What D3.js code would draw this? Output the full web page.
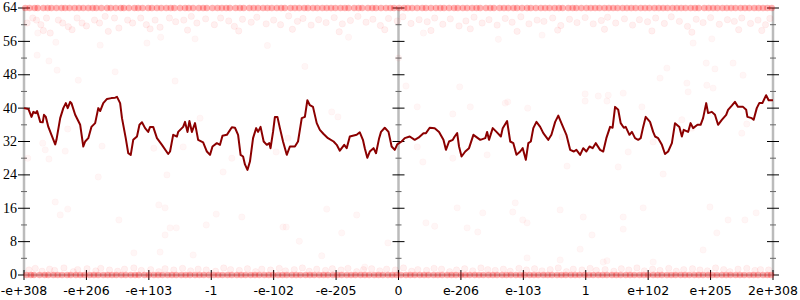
<!DOCTYPE html>
<html>
<head>
<meta charset="utf-8">
<script src="https://cdn.jsdelivr.net/npm/d3@7"></script>
<style>
body { margin: 0; background: #fff; }
svg { display: block; }
</style>
</head>
<body>
<script>
const w = 800;
const h = 300;
const margin = {top: 8, right: 27, bottom: 25, left: 24};

// x is in "tick steps" along the bit-ordered axis, 0..12
const xLabels = ["-e+308", "-e+206", "-e+103", "-1", "-e-102", "-e-205", "0",
                 "e-206", "e-103", "1", "e+102", "e+205", "2e+308"];
const yMajor = [0, 8, 16, 24, 32, 40, 48, 56, 64];
const yMinor = [4, 12, 20, 28, 36, 44, 52, 60];

// moving count line
const lineX = [0.00,0.07,0.12,0.15,0.19,0.21,0.26,0.30,0.32,0.35,0.39,0.44,0.50,0.52,0.58,0.63,0.67,0.70,0.74,0.76,
  0.82,0.90,0.95,0.98,1.03,1.08,1.14,1.19,1.22,1.27,1.33,1.40,1.46,1.49,1.54,1.57,1.63,1.67,1.71,1.75,
  1.81,1.85,1.89,1.94,1.99,2.02,2.07,2.13,2.21,2.31,2.34,2.39,2.45,2.47,2.55,2.58,2.62,2.65,2.69,2.74,
  2.79,2.87,2.93,2.98,3.02,3.09,3.14,3.18,3.25,3.33,3.38,3.43,3.47,3.51,3.54,3.58,3.62,3.67,3.72,3.75,
  3.79,3.84,3.89,3.93,3.95,3.99,4.02,4.06,4.10,4.15,4.21,4.26,4.34,4.39,4.45,4.50,4.54,4.58,4.63,4.69,
  4.74,4.80,4.87,4.96,5.01,5.06,5.13,5.17,5.22,5.33,5.38,5.43,5.46,5.50,5.54,5.60,5.64,5.69,5.72,5.78,
  5.84,5.89,5.94,5.98,6.05,6.10,6.18,6.26,6.32,6.40,6.44,6.50,6.58,6.65,6.72,6.76,6.81,6.87,6.90,6.94,
  6.97,7.01,7.07,7.13,7.20,7.31,7.39,7.42,7.45,7.51,7.57,7.64,7.67,7.74,7.79,7.84,7.89,7.95,7.99,8.04,
  8.08,8.12,8.16,8.21,8.27,8.32,8.40,8.45,8.51,8.56,8.61,8.69,8.75,8.81,8.85,8.91,8.96,9.01,9.06,9.11,
  9.16,9.23,9.28,9.33,9.39,9.43,9.47,9.52,9.56,9.61,9.64,9.70,9.74,9.79,9.84,9.88,9.92,9.96,10.03,10.08,
  10.11,10.16,10.22,10.27,10.32,10.38,10.43,10.50,10.54,10.57,10.64,10.68,10.72,10.79,10.84,10.88,10.93,10.96,11.02,11.07,
  11.12,11.18,11.25,11.28,11.34,11.39,11.44,11.52,11.57,11.59,11.66,11.69,11.74,11.78,11.83,11.89,11.93,12.00];
const lineY = [40.0,39.8,37.9,39.1,38.8,39.3,36.7,36.6,38.4,37.9,35.5,33.6,31.3,32.4,37.6,40.0,41.2,40.0,41.5,41.2,
  38.4,36.0,30.8,32.0,32.8,35.5,36.4,40.0,39.3,41.2,42.2,42.4,42.5,42.7,41.2,37.6,32.8,29.2,28.8,32.4,
  33.2,36.0,36.6,35.2,34.3,35.5,35.5,32.8,31.2,29.0,29.6,33.6,33.2,34.3,35.5,36.7,34.3,36.9,34.3,36.4,
  32.4,31.8,29.6,28.8,30.8,31.6,31.2,33.4,33.6,35.4,35.3,33.6,28.8,28.4,26.5,25.2,27.2,32.8,35.2,34.3,
  35.5,32.0,31.2,31.6,30.4,34.3,37.9,37.9,35.2,32.0,28.8,30.8,30.8,32.0,37.6,37.9,41.9,40.7,40.3,36.4,
  34.8,33.8,32.8,32.0,31.2,29.8,31.2,30.4,33.2,33.6,34.2,32.4,30.4,28.1,29.6,30.4,29.2,32.8,34.3,35.3,
  34.3,30.8,30.0,31.3,32.0,32.8,33.2,32.4,32.9,34.0,34.0,35.3,35.2,34.3,32.4,30.0,32.0,32.4,33.2,34.0,
  30.8,28.4,29.6,30.4,33.6,32.4,32.8,34.3,32.4,35.2,34.3,33.2,35.2,36.9,32.0,31.6,28.8,29.6,30.4,27.6,
  31.6,32.0,35.2,36.7,35.5,34.0,32.4,33.6,36.7,38.2,36.4,33.6,30.0,29.6,30.0,28.8,30.4,29.6,30.8,30.4,
  31.6,30.0,29.6,32.8,35.5,35.3,40.3,39.6,36.4,35.3,35.5,33.6,34.3,32.8,32.4,32.8,35.5,37.9,36.7,34.3,
  33.2,32.8,31.2,29.0,29.6,31.6,36.4,35.5,33.2,34.8,34.3,36.4,35.2,36.0,36.0,37.6,41.2,38.8,39.1,38.4,
  36.0,37.2,38.4,39.6,40.6,41.5,40.3,40.3,39.6,37.9,37.6,37.2,40.0,41.2,41.2,43.1,41.9,41.9];

// samples sitting exactly on 64 and on 0
const topBandX = [0.02,0.09,0.17,0.22,0.31,0.38,0.44,0.52,0.60,0.66,0.73,0.81,0.88,0.95,1.03,1.10,1.16,1.24,1.33,1.39,
  1.47,1.55,1.60,1.68,1.77,1.83,1.90,1.99,2.05,2.13,2.20,2.28,2.35,2.41,2.50,2.58,2.64,2.71,2.80,2.87,
  2.93,3.02,3.10,3.17,3.24,3.30,3.39,3.46,3.52,3.61,3.68,3.75,3.83,3.90,3.97,4.05,4.12,4.18,4.27,4.34,
  4.41,4.49,4.55,4.63,4.70,4.78,4.85,4.92,4.99,5.07,5.14,5.20,5.29,5.36,5.42,5.51,5.58,5.64,5.72,5.80,
  5.87,5.93,6.01,6.09,6.15,6.22,6.30,6.38,6.44,6.52,6.60,6.67,6.73,6.81,6.89,6.95,7.03,7.10,7.18,7.25,
  7.31,7.40,7.47,7.53,7.62,7.69,7.76,7.84,7.90,7.98,8.06,8.12,8.20,8.28,8.35,8.42,8.50,8.57,8.63,8.72,
  8.79,8.85,8.93,9.01,9.08,9.15,9.22,9.30,9.37,9.44,9.51,9.59,9.66,9.73,9.80,9.88,9.95,10.02,10.10,10.17,
  10.24,10.31,10.39,10.46,10.53,10.60,10.68,10.75,10.81,10.90,10.97,11.04,11.11,11.19,11.26,11.33,11.40,11.48,11.55,11.62,
  11.70,11.77,11.84,11.91,11.98];
const bottomBandX = [0.04,0.11,0.16,0.25,0.33,0.39,0.47,0.54,0.61,0.69,0.75,0.83,0.90,0.97,1.05,1.12,1.19,1.27,1.34,1.41,
  1.48,1.56,1.63,1.71,1.78,1.84,1.93,2.00,2.08,2.15,2.22,2.30,2.37,2.44,2.52,2.59,2.66,2.74,2.81,2.88,
  2.96,3.04,3.11,3.18,3.26,3.33,3.41,3.48,3.55,3.63,3.70,3.77,3.85,3.92,3.99,4.07,4.14,4.21,4.29,4.36,
  4.43,4.51,4.58,4.65,4.73,4.80,4.87,4.95,5.02,5.09,5.17,5.24,5.31,5.39,5.46,5.53,5.61,5.68,5.75,5.83,
  5.90,5.97,6.04,6.12,6.19,6.26,6.34,6.41,6.48,6.56,6.63,6.70,6.78,6.85,6.92,7.00,7.07,7.14,7.22,7.29,
  7.36,7.44,7.51,7.58,7.66,7.73,7.80,7.88,7.95,8.02,8.10,8.17,8.24,8.32,8.39,8.46,8.54,8.61,8.68,8.76,
  8.83,8.90,8.98,9.05,9.12,9.20,9.27,9.34,9.42,9.49,9.56,9.64,9.71,9.78,9.86,9.93,10.00,10.08,10.15,10.22,
  10.30,10.37,10.44,10.52,10.59,10.66,10.74,10.81,10.88,10.96,11.03,11.10,11.18,11.25,11.32,11.40,11.47,11.54,11.62,11.69,
  11.76,11.84,11.91,11.97];

// samples just under 64
const upperX = [0.05,0.14,0.20,0.27,0.36,0.42,0.55,0.62,0.71,0.85,0.93,1.00,1.13,1.21,1.30,1.45,1.52,1.66,1.74,1.87,
  1.96,2.10,2.18,2.33,2.43,2.56,2.68,2.77,2.91,3.05,3.15,3.28,3.37,3.50,3.64,3.73,3.88,4.00,4.11,4.24,
  4.38,4.47,4.60,4.72,4.84,4.97,5.10,5.23,5.35,5.48,5.59,5.71,5.84,5.98,6.07,6.20,6.33,6.46,6.58,6.71,
  6.83,6.97,7.08,7.21,7.34,7.45,7.58,7.71,7.82,7.96,8.09,8.22,8.33,8.47,8.60,8.74,8.86,8.99,9.12,9.25,
  9.35,9.48,9.62,9.75,9.86,9.99,10.12,10.26,10.37,10.50,10.63,10.77,10.88,11.00,11.14,11.27,11.38,11.50,11.64,11.76,
  11.88,11.95,0.31,0.77,1.35,2.02,2.62,3.44,4.30,5.05,5.78,6.52,7.15,7.90,8.55,9.30,10.06,10.70,11.45,11.82];
const upperY = [60.4,61.6,61.1,60.0,61.6,58.0,61.1,60.4,59.5,61.6,60.4,59.7,61.1,60.4,62.0,61.6,59.2,61.1,60.4,61.6,
  60.0,61.1,59.4,61.6,60.7,61.1,62.0,60.4,61.4,60.0,61.6,60.9,59.6,61.3,60.6,61.8,60.2,61.1,60.0,62.1,
  60.8,61.5,59.9,61.2,60.5,61.7,60.2,61.0,62.0,60.6,61.3,59.8,61.5,60.9,61.9,60.3,61.2,60.7,61.6,60.1,
  61.4,59.7,60.9,61.8,60.4,61.2,59.9,61.5,60.6,61.9,60.2,61.1,60.8,61.6,59.8,61.3,60.5,61.7,60.2,61.0,
  61.8,60.4,61.4,59.9,61.2,60.7,61.6,60.3,61.9,60.8,59.6,61.3,60.5,61.7,60.1,61.2,60.8,61.6,60.3,61.1,
  60.0,61.5,58.6,58.8,58.4,59.0,58.7,58.5,58.9,58.3,58.8,58.6,59.0,58.4,58.7,58.9,58.5,58.2,58.8,58.6];

// samples just above 0
const lowerX = [0.08,0.18,0.29,0.41,0.49,0.64,0.79,0.86,1.01,1.15,1.23,1.37,1.50,1.61,1.76,1.88,2.03,2.16,2.26,2.40,
  2.54,2.67,2.79,2.92,3.07,3.20,3.31,3.45,3.58,3.71,3.81,3.95,4.09,4.19,4.33,4.46,4.57,4.69,4.83,4.94,
  5.08,5.19,5.33,5.44,5.57,5.70,5.81,5.95,6.08,6.21,6.31,6.45,6.57,6.69,6.82,6.93,7.06,7.19,7.32,7.43,
  7.55,7.68,7.79,7.93,8.05,8.18,8.30,8.43,8.56,8.69,8.80,8.94,9.07,9.17,9.31,9.45,9.57,9.69,9.82,9.94,
  10.07,10.19,10.33,10.45,10.57,10.71,10.83,10.95,11.08,11.21,11.31,11.44,11.58,11.71,11.80,11.93];
const lowerY = [1.2,1.6,0.9,1.4,1.1,1.7,0.8,1.3,1.5,1.0,1.6,1.2,0.9,1.4,1.7,1.1,1.3,0.8,1.5,1.2,
  1.6,1.0,1.4,1.2,0.9,1.7,1.3,1.1,1.5,0.8,1.4,1.2,1.6,1.0,1.3,1.7,0.9,1.4,1.1,1.5,
  1.2,1.6,0.8,1.3,1.5,1.0,1.4,1.2,1.7,0.9,1.3,1.1,1.6,1.4,0.8,1.2,1.5,1.0,1.7,1.3,
  1.1,1.4,0.9,1.6,1.2,1.5,1.0,1.3,1.7,0.8,1.4,1.2,1.6,1.1,1.3,0.9,1.5,1.2,1.7,1.0,
  1.4,1.1,1.6,0.9,1.3,1.5,1.2,1.0,1.7,1.3,0.8,1.4,1.6,1.1,1.3,1.2];

// stray samples in between
const strayX = [0.22,0.21,0.40,0.53,0.87,1.46,0.51,1.22,1.97,2.19,2.42,2.74,0.70,0.30,0.34,0.40,0.06,0.66,1.25,1.19,
  2.08,2.29,2.55,0.50,0.58,0.70,1.52,1.76,2.16,2.26,2.26,2.34,2.44,2.18,2.71,3.08,2.92,3.49,4.15,4.20,
  4.41,4.77,4.85,5.09,5.33,5.46,5.83,6.44,6.58,6.94,7.10,7.27,7.35,7.83,7.87,7.99,8.06,8.59,8.96,9.10,
  8.91,9.60,9.60,9.92,8.59,9.28,9.34,10.08,8.06,10.99,11.10,11.28,11.55,11.73,10.88,10.72,11.02,10.30,10.19,10.93,
  11.07,11.36,11.52,10.62,10.64,10.94,11.04,9.36,9.60,4.93,5.03,6.12,6.30,6.87,7.15,6.98,6.39,6.87,7.42,6.30,
  2.82,3.33,3.19,4.23,4.04,7.71,7.75,8.07,8.99,8.99,9.20,9.34,8.62,8.70,9.52,10.54,10.70,11.58,11.50,10.08,
  9.68,10.24,9.90,3.90,5.20,6.40,7.60,8.30,4.50,6.00];
const strayY = [58.0,52.7,51.3,49.1,46.7,48.7,55.8,55.1,55.6,57.0,46.5,56.6,35.0,31.6,30.0,27.8,28.0,29.7,30.9,23.5,
  30.4,24.0,30.7,17.5,14.4,15.8,13.2,5.3,16.8,16.1,9.6,11.3,11.3,5.5,4.8,14.6,12.0,13.9,11.5,11.5,
  8.1,4.6,15.8,10.1,14.4,1.9,7.7,12.5,11.7,16.1,11.3,10.3,14.9,15.1,17.3,13.2,12.5,15.6,13.9,9.6,
  6.2,13.9,11.0,16.1,3.6,3.1,3.4,3.1,4.1,16.3,10.1,13.2,13.2,14.9,6.0,55.6,56.6,49.6,47.2,50.8,
  49.4,50.8,47.9,46.0,43.9,45.5,44.8,43.1,43.6,39.1,37.9,45.3,40.3,38.6,40.3,45.1,27.1,28.0,28.8,30.7,
  37.6,28.0,24.7,32.8,29.5,41.2,41.5,40.0,43.4,41.7,42.9,41.7,33.1,26.1,25.9,37.2,35.2,36.2,34.0,31.9,
  29.5,24.2,40.3,55.0,57.0,58.0,56.5,57.5,50.0,52.0];

let svg = d3.select("body")
            .append("svg")
            .attr("width", w)
            .attr("height", h);

let x = d3.scaleLinear()
        .domain([0, xLabels.length - 1])
        .range([margin.left, w - margin.right]);

let y = d3.scaleLinear()
        .domain([0, 64])
        .range([h - margin.bottom, margin.top]);

// axes first, the samples are drawn over them
function yAxis(pos) {
  let g = svg.append("g")
     .attr("transform", "translate(" + x(pos) + ",0)");
  g.append("line")
     .attr("y1", y(0)).attr("y2", y(64))
     .attr("stroke", "#bbb").attr("stroke-width", 2.5);
  g.selectAll(".minor")
     .data(yMinor)
     .enter().append("line")
     .attr("x1", -3).attr("x2", 3)
     .attr("y1", d => y(d)).attr("y2", d => y(d))
     .attr("stroke", "#666");
  g.selectAll(".major")
     .data(yMajor)
     .enter().append("line")
     .attr("x1", -6).attr("x2", 6)
     .attr("y1", d => y(d)).attr("y2", d => y(d))
     .attr("stroke", "#000");
  return g;
}

yAxis(0).selectAll("text")
   .data(yMajor)
   .enter().append("text")
   .attr("x", -7)
   .attr("y", d => y(d))
   .attr("dy", "0.32em")
   .attr("text-anchor", "end")
   .style("font-family", "'Liberation Serif', 'DejaVu Serif', serif")
   .style("font-size", "14px")
   .text(d => d);
yAxis(6);
yAxis(12);

let xg = svg.append("g");
xg.append("line")
   .attr("x1", x(0)).attr("x2", x(12))
   .attr("y1", y(0)).attr("y2", y(0))
   .attr("stroke", "#bbb").attr("stroke-width", 2.5);
xg.selectAll(".tick")
   .data(xLabels)
   .enter().append("line")
   .attr("x1", (d, i) => x(i)).attr("x2", (d, i) => x(i))
   .attr("y1", y(0) - 5).attr("y2", y(0) + 5)
   .attr("stroke", "#000");
xg.selectAll("text")
   .data(xLabels)
   .enter().append("text")
   .attr("x", (d, i) => x(i))
   .attr("y", y(0) + 11)
   .attr("dy", "0.71em")
   .attr("text-anchor", "middle")
   .style("font-family", "'DejaVu Sans', sans-serif")
   .style("font-size", "12.5px")
   .text(d => d);

// samples: [x, y, opacity, ring]
let dots = [];
topBandX.forEach(v => dots.push([v, 64, 0.3, 0]));
bottomBandX.forEach(v => dots.push([v, 0, 0.3, 0]));
upperX.forEach((v, i) => dots.push([v, upperY[i], 0.06, 1]));
lowerX.forEach((v, i) => dots.push([v, lowerY[i], 0.06, 1]));
strayX.forEach((v, i) => dots.push([v, strayY[i], 0.035, 1]));

svg.append("g")
   .selectAll("circle")
   .data(dots)
   .enter()
   .append("circle")
   .attr("cx", d => x(d[0]))
   .attr("cy", d => y(d[1]))
   .attr("r", 3.2)
   .attr("fill", "red")
   .attr("fill-opacity", d => d[2])
   .attr("stroke", "red")
   .attr("stroke-opacity", d => d[2] * 0.7 * d[3]);

let line = d3.line()
   .x(d => x(d[0]))
   .y(d => y(d[1]));

svg.append("path")
   .datum(lineX.map((v, i) => [v, lineY[i]]))
   .attr("d", line)
   .attr("fill", "none")
   .attr("stroke", "#8b0000")
   .attr("stroke-width", 2)
   .attr("stroke-linejoin", "round");
</script>
</body>
</html>
